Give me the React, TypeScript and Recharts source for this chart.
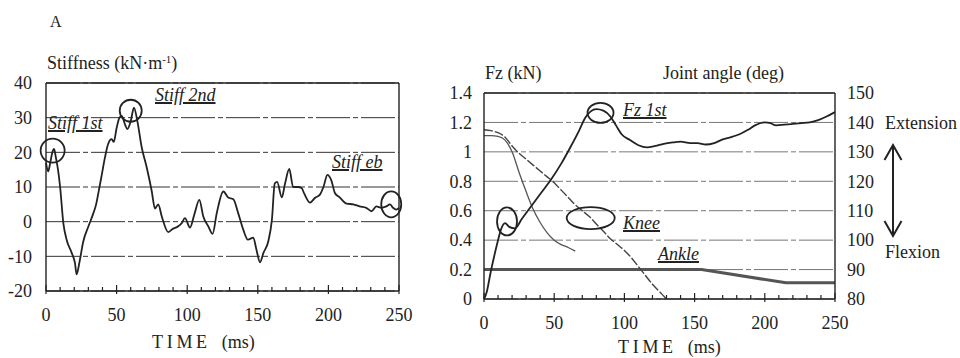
import React from "react";
import {
  LineChart,
  Line,
  XAxis,
  YAxis,
  CartesianGrid,
  ReferenceLine,
  ReferenceDot,
} from "recharts";

const FONT = '"Liberation Serif", "Times New Roman", "DejaVu Serif", serif';
const INK = "#222";

// ---- panel 1: stiffness ----
const stiffTime = [
  0, 1.5, 3, 4.5, 5.7, 7, 8.5, 10, 12.3, 14.6, 18.2, 20.5, 21.7, 23.6, 26.4, 30, 33.5, 35.5, 37, 39.4,
  41.8, 44, 46.5, 48, 50, 52, 53.6, 56, 57.6, 60, 62.3, 64.7, 67.8, 71.3, 74.8, 77.2, 79.5, 82, 86.6,
  90, 93, 96, 98.4, 102, 105, 108.6, 111.4, 115, 118, 121, 125.6, 129, 132.7, 136, 139.7, 143, 146.8,
  149, 151.6, 154, 157.4, 160, 162, 163.7, 167, 169.3, 172.3, 175, 178.5, 181, 183, 187, 190.6, 194,
  196.5, 199.3, 202, 204.7, 208, 213, 217.7, 222, 226.8, 230.6, 234, 237.5, 241, 243.6, 245.8, 248, 250,
];
const stiffValue = [
  17, 14.5, 17, 20, 21, 18.5, 15, 10, -0.5, -5.2, -9, -11.9, -15.2, -11.9, -5.7, -1.4, 2.4, 5, 8.1, 13.3,
  18.6, 22.4, 23.8, 23, 27, 30, 30.5, 28, 26.7, 29, 32.9, 29, 21.4, 15.7, 9, 3.8, 5, 1.5, -3,
  -2, -1.5, -0.5, 1, -1.7, 2, 6.3, 1.5, -1.4, -3.5, 2.6, 8.7, 7, 6.5, 2.6, -2.3, -5.2, -4.6,
  -8, -11.7, -9, -5.7, 0.6, 11, 11.5, 7, 11, 15.2, 10, 10, 9.7, 8, 5.5, 6.9, 7.8,
  10, 13.5, 12, 8.2, 7, 5.2, 5, 4.4, 4, 3, 4.4, 4, 4.4, 5, 4, 3.5, 4,
];
const stiffTicks = [-20, -10, 0, 10, 20, 30, 40];

// ---- panel 2: Fz and joint angles ----
const fzTime = [
  0, 2, 4.5, 7, 9.5, 12, 15, 18, 22, 27, 34, 41, 48, 55, 62, 68, 72, 76, 80, 85, 90, 94, 98, 104, 110,
  116, 122, 128, 135, 140, 147, 152, 158, 164, 170, 176, 182, 188, 193, 200, 204, 208, 214, 220, 226,
  232, 238, 244, 250,
];
const fzValue = [
  0, 0.05, 0.17, 0.28, 0.38, 0.47, 0.515, 0.49, 0.48, 0.545, 0.635, 0.725, 0.815, 0.92, 1.04, 1.15,
  1.23, 1.275, 1.29, 1.28, 1.24, 1.18, 1.12, 1.08, 1.045, 1.03, 1.04, 1.055, 1.065, 1.07, 1.06, 1.06,
  1.05, 1.06, 1.085, 1.1, 1.12, 1.15, 1.18, 1.2, 1.195, 1.18, 1.185, 1.19, 1.195, 1.2, 1.215, 1.24, 1.27,
];
const kneeTime = [
  0, 5, 10, 15, 20, 25, 30, 35, 40, 45, 50, 55, 60, 65, 70, 75, 80, 85, 90, 95, 100, 105, 110, 115,
  120, 125, 130,
];
const kneeAngle = [
  137.5, 137.2, 136.5, 135, 132, 129.5, 127.5, 125.5, 123.5, 121.5, 119.5, 117, 114.5, 112, 110, 108,
  105.5, 103, 100.5, 98.5, 96.5, 94, 91, 88, 85, 82.5, 80,
];
const otherTime = [0, 5, 10, 15, 20, 25, 30, 35, 40, 45, 50, 55, 60, 65];
const otherAngle = [135.5, 135.5, 135.25, 134, 130, 123, 116.5, 110.5, 106, 102.5, 100, 98.5, 97.5, 96.25];
const ankleTime = [0, 155, 215, 250];
const ankleAngle = [90, 90, 85.5, 85.5];

const fzTicks = [0, 0.2, 0.4, 0.6, 0.8, 1, 1.2, 1.4];
const angleTicks = [80, 90, 100, 110, 120, 130, 140, 150];
const timeTicks = [
  0, 10, 20, 30, 40, 50, 60, 70, 80, 90, 100, 110, 120, 130, 140, 150, 160, 170, 180, 190, 200, 210,
  220, 230, 240, 250,
];

const zip = (t: number[], v: number[], key: string) => t.map((x, i) => ({ t: x, [key]: v[i] }));
const stiffData = zip(stiffTime, stiffValue, "v");
const fzData = zip(fzTime, fzValue, "v");
const kneeData = zip(kneeTime, kneeAngle, "v");
const otherData = zip(otherTime, otherAngle, "v");
const ankleData = zip(ankleTime, ankleAngle, "v");

function TimeTick(props: any) {
  const { x, y, payload } = props;
  const v = payload.value;
  const major = v % 50 === 0;
  return (
    <g>
      <line x1={x} x2={x} y1={y - (major ? 6 : 4)} y2={y + (major ? 3 : 0)} stroke={INK} strokeWidth={1.2} />
      {major && (
        <text x={x} y={y + 30} textAnchor="middle" fontSize={18} fill={INK} style={{ fontFamily: FONT }}>
          {v}
        </text>
      )}
    </g>
  );
}

function ValueTick(props: any) {
  const { x, y, payload, textAnchor } = props;
  return (
    <text x={x} y={y} dy="0.35em" textAnchor={textAnchor} fontSize={18} fill={INK} style={{ fontFamily: FONT }}>
      {String(payload.value)}
    </text>
  );
}

const ring = (rx: number, ry: number) => (p: any) =>
  <ellipse cx={p.cx} cy={p.cy} rx={rx} ry={ry} fill="none" stroke={INK} strokeWidth={1.8} />;

const gridDash = "34 3 5 3";

function Note({ x, y, children, size = 18, italic = false, under = false }: any) {
  return (
    <div
      style={{
        position: "absolute",
        left: x,
        top: y - size / 2,
        fontSize: size,
        lineHeight: 1,
        fontFamily: FONT,
        fontStyle: italic ? "italic" : "normal",
        textDecoration: under ? "underline" : "none",
        textDecorationThickness: "1.5px",
        whiteSpace: "nowrap",
        color: INK,
      }}
    >
      {children}
    </div>
  );
}

function TimeLabel({ x, y }: { x: number; y: number }) {
  return (
    <Note x={x} y={y}>
      <span style={{ letterSpacing: 3.7 }}>TIME</span>
      <span style={{ marginLeft: 11 }}>(ms)</span>
    </Note>
  );
}

export default function App() {
  return (
    <div
      style={{
        position: "absolute",
        left: 0,
        top: 0,
        width: 960,
        height: 358,
        background: "#fff",
        overflow: "hidden",
        fontFamily: FONT,
      }}
    >
      <div style={{ position: "absolute", left: 0, top: 0 }}>
        <LineChart width={420} height={358} data={stiffData} margin={{ top: 83, right: 21, bottom: 37, left: 0 }}>
          <CartesianGrid vertical={false} stroke="#333" strokeDasharray={gridDash} />
          <XAxis
            dataKey="t"
            type="number"
            domain={[0, 250]}
            ticks={timeTicks}
            interval={0}
            tick={<TimeTick />}
            tickLine={false}
            tickSize={0}
            tickMargin={0}
            height={30}
            stroke={INK}
            strokeWidth={1.4}
          />
          <YAxis
            type="number"
            domain={[-20, 40]}
            ticks={stiffTicks}
            interval={0}
            width={46}
            tickLine={false}
            tickSize={0}
            tickMargin={14}
            tick={<ValueTick />}
            stroke={INK}
            strokeWidth={1.4}
          />
          <ReferenceLine y={40} stroke={INK} strokeWidth={1.4} />
          <ReferenceLine x={250} stroke={INK} strokeWidth={1.4} />
          <Line dataKey="v" type="monotone" stroke={INK} strokeWidth={1.8} dot={false} isAnimationActive={false} />
          <ReferenceDot x={4.7} y={20.5} r={12} shape={ring(12, 12)} />
          <ReferenceDot x={60} y={32} r={11} shape={ring(11, 11)} />
          <ReferenceDot x={244.5} y={5} r={10} shape={ring(10, 13)} />
        </LineChart>
      </div>

      <div style={{ position: "absolute", left: 430, top: 0 }}>
        <LineChart width={460} height={358} margin={{ top: 93, right: 15, bottom: 29, left: 0 }}>
          <CartesianGrid vertical={false} yAxisId="kN" stroke="#777" strokeDasharray={gridDash} />
          <XAxis
            dataKey="t"
            type="number"
            domain={[0, 250]}
            ticks={timeTicks}
            interval={0}
            tick={<TimeTick />}
            tickLine={false}
            tickSize={0}
            tickMargin={0}
            height={30}
            stroke={INK}
            strokeWidth={1.4}
            allowDuplicatedCategory={false}
          />
          <YAxis
            yAxisId="kN"
            type="number"
            domain={[0, 1.4]}
            ticks={fzTicks}
            interval={0}
            width={54}
            tickLine={false}
            tickSize={0}
            tickMargin={12}
            tick={<ValueTick />}
            stroke={INK}
            strokeWidth={1.4}
          />
          <YAxis
            yAxisId="deg"
            orientation="right"
            type="number"
            domain={[80, 150]}
            ticks={angleTicks}
            interval={0}
            width={40}
            tickLine={false}
            tickSize={0}
            tickMargin={12}
            tick={<ValueTick />}
            stroke={INK}
            strokeWidth={1.4}
          />
          <ReferenceLine yAxisId="kN" y={1.4} stroke={INK} strokeWidth={1.4} />
          <Line yAxisId="deg" data={ankleData} dataKey="v" type="linear" stroke="#555" strokeWidth={3} dot={false} isAnimationActive={false} />
          <Line yAxisId="deg" data={otherData} dataKey="v" type="monotone" stroke="#555" strokeWidth={1.3} dot={false} isAnimationActive={false} />
          <Line yAxisId="deg" data={kneeData} dataKey="v" type="monotone" stroke="#444" strokeWidth={1.4} strokeDasharray="9 2" dot={false} isAnimationActive={false} />
          <Line yAxisId="kN" data={fzData} dataKey="v" type="monotone" stroke={INK} strokeWidth={1.8} dot={false} isAnimationActive={false} />
          <ReferenceDot yAxisId="kN" x={83} y={1.265} r={10} shape={ring(13, 10)} />
          <ReferenceDot yAxisId="kN" x={16.4} y={0.527} r={10} shape={ring(10, 14)} />
          <ReferenceDot yAxisId="kN" x={76} y={0.55} r={10} shape={ring(24, 11)} />
        </LineChart>
      </div>

      <Note x={50} y={22} size={16}>A</Note>
      <Note x={47} y={63}>
        Stiffness (kN·m<sup style={{ fontSize: 11, verticalAlign: 6 }}>-1</sup>)
      </Note>
      <Note x={48} y={123} italic under>Stiff 1st</Note>
      <Note x={155} y={95} italic under>Stiff 2nd</Note>
      <Note x={332} y={162} italic under>Stiff eb</Note>
      <TimeLabel x={152} y={342} />

      <Note x={485} y={73}>Fz (kN)</Note>
      <Note x={663} y={73}>Joint angle (deg)</Note>
      <Note x={623} y={110} italic under>Fz 1st</Note>
      <Note x={623} y={223} italic under>Knee</Note>
      <Note x={658} y={254} italic under>Ankle</Note>
      <TimeLabel x={618} y={347} />

      <Note x={885} y={123}>Extension</Note>
      <Note x={885} y={252}>Flexion</Note>
      <svg style={{ position: "absolute", left: 878, top: 139 }} width={30} height={104}>
        <line x1={15} x2={15} y1={7} y2={96} stroke={INK} strokeWidth={2} />
        <polyline points="6.5,21 15,6 23.5,21" fill="none" stroke={INK} strokeWidth={2} />
        <polyline points="6.5,82 15,97 23.5,82" fill="none" stroke={INK} strokeWidth={2} />
      </svg>
    </div>
  );
}
